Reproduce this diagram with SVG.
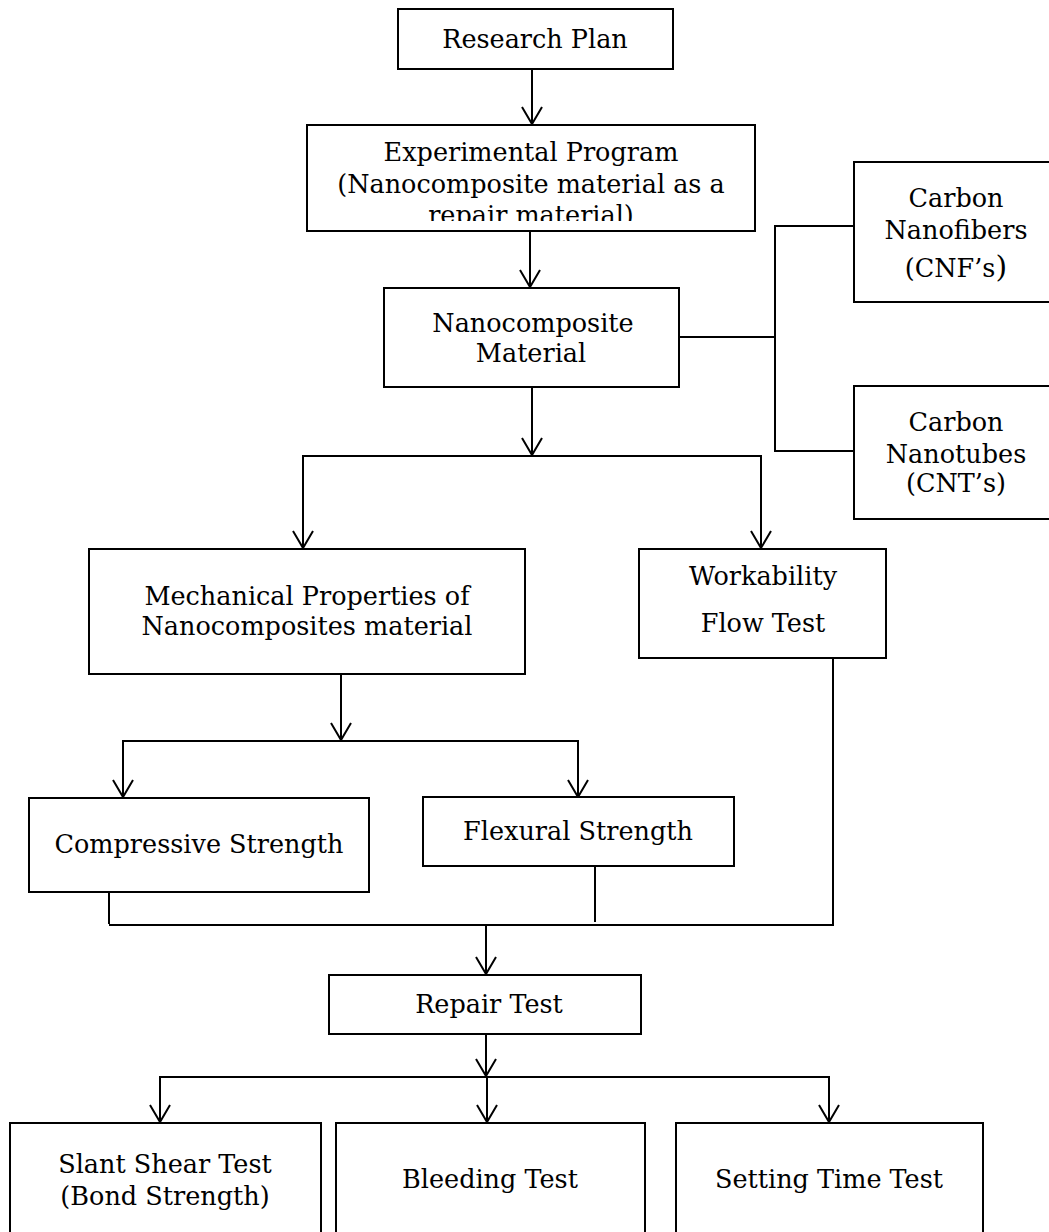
<svg xmlns="http://www.w3.org/2000/svg" width="1049" height="1232" viewBox="0 0 1049 1232">
<style>
  .box { fill: #fff; stroke: #000; stroke-width: 2; }
  .lbl { font-family: "DejaVu Serif", "Liberation Serif", serif; font-size: 25.5px; fill: #000; text-anchor: middle; }
  .con { fill: none; stroke: #000; stroke-width: 2; }
</style>
<defs>
  <marker id="arr" viewBox="-20 -12 22 24" refX="0" refY="0" markerWidth="22" markerHeight="24" markerUnits="userSpaceOnUse" orient="auto" overflow="visible">
    <path d="M-17,-10 L0,0 L-17,10" fill="none" stroke="#000" stroke-width="2"/>
  </marker>
  <clipPath id="expClip"><rect x="307" y="125" width="448" height="96"/></clipPath>
</defs>
<rect width="1049" height="1232" fill="#fff"/>

<g id="connectors">
  <line class="con" x1="532" y1="69" x2="532" y2="124" marker-end="url(#arr)"/>
  <line class="con" x1="530" y1="231" x2="530" y2="287" marker-end="url(#arr)"/>
  <polyline class="con" points="679,337 775,337"/>
  <polyline class="con" points="854,226 775,226 775,451 854,451"/>
  <line class="con" x1="532" y1="387" x2="532" y2="455" marker-end="url(#arr)"/>
  <polyline class="con" points="303,548 303,456 761,456 761,548"/>
  <line class="con" x1="303" y1="500" x2="303" y2="548" marker-end="url(#arr)"/>
  <line class="con" x1="761" y1="500" x2="761" y2="548" marker-end="url(#arr)"/>
  <line class="con" x1="341" y1="674" x2="341" y2="740" marker-end="url(#arr)"/>
  <polyline class="con" points="123,797 123,741 578,741 578,797"/>
  <line class="con" x1="123" y1="760" x2="123" y2="797" marker-end="url(#arr)"/>
  <line class="con" x1="578" y1="760" x2="578" y2="797" marker-end="url(#arr)"/>
  <line class="con" x1="109" y1="892" x2="109" y2="924"/>
  <line class="con" x1="595" y1="866" x2="595" y2="922"/>
  <polyline class="con" points="109,925 833,925 833,658"/>
  <line class="con" x1="486" y1="925" x2="486" y2="974" marker-end="url(#arr)"/>
  <line class="con" x1="486" y1="1034" x2="486" y2="1076" marker-end="url(#arr)"/>
  <polyline class="con" points="160,1122 160,1077 829,1077 829,1122"/>
  <line class="con" x1="160" y1="1090" x2="160" y2="1122" marker-end="url(#arr)"/>
  <line class="con" x1="487" y1="1077" x2="487" y2="1122" marker-end="url(#arr)"/>
  <line class="con" x1="829" y1="1090" x2="829" y2="1122" marker-end="url(#arr)"/>
</g>

<g id="research-plan">
  <rect class="box" x="398" y="9" width="275" height="60"/>
  <text class="lbl" x="535" y="48">Research Plan</text>
</g>
<g id="experimental-program">
  <rect class="box" x="307" y="125" width="448" height="106"/>
  <g clip-path="url(#expClip)">
    <text class="lbl" x="531" y="161">Experimental Program</text>
    <text class="lbl" x="531" y="193">(Nanocomposite material as a</text>
    <text class="lbl" x="531" y="224">repair material)</text>
  </g>
</g>
<g id="nanocomposite-material">
  <rect class="box" x="384" y="288" width="295" height="99"/>
  <text class="lbl" x="533" y="332">Nanocomposite</text>
  <text class="lbl" x="531" y="362">Material</text>
</g>
<g id="cnf">
  <rect class="box" x="854" y="162" width="206" height="140"/>
  <text class="lbl" x="956" y="207">Carbon</text>
  <text class="lbl" x="956" y="239">Nanofibers</text>
  <text class="lbl" x="956" y="277">(CNF’s<tspan font-size="30">)</tspan></text>
</g>
<g id="cnt">
  <rect class="box" x="854" y="386" width="206" height="133"/>
  <text class="lbl" x="956" y="431">Carbon</text>
  <text class="lbl" x="956" y="463">Nanotubes</text>
  <text class="lbl" x="956" y="492">(CNT’s)</text>
</g>
<g id="mechanical-properties">
  <rect class="box" x="89" y="549" width="436" height="125"/>
  <text class="lbl" x="307" y="605">Mechanical Properties of</text>
  <text class="lbl" x="307" y="635">Nanocomposites material</text>
</g>
<g id="workability">
  <rect class="box" x="639" y="549" width="247" height="109"/>
  <text class="lbl" x="763" y="585">Workability</text>
  <text class="lbl" x="763" y="632">Flow Test</text>
</g>
<g id="compressive-strength">
  <rect class="box" x="29" y="798" width="340" height="94"/>
  <text class="lbl" x="199" y="853">Compressive Strength</text>
</g>
<g id="flexural-strength">
  <rect class="box" x="423" y="797" width="311" height="69"/>
  <text class="lbl" x="578" y="840">Flexural Strength</text>
</g>
<g id="repair-test">
  <rect class="box" x="329" y="975" width="312" height="59"/>
  <text class="lbl" x="489" y="1013">Repair Test</text>
</g>
<g id="slant-shear-test">
  <rect class="box" x="10" y="1123" width="311" height="130"/>
  <text class="lbl" x="165" y="1173">Slant Shear Test</text>
  <text class="lbl" x="165" y="1205">(Bond Strength)</text>
</g>
<g id="bleeding-test">
  <rect class="box" x="336" y="1123" width="309" height="130"/>
  <text class="lbl" x="490" y="1188">Bleeding Test</text>
</g>
<g id="setting-time-test">
  <rect class="box" x="676" y="1123" width="307" height="130"/>
  <text class="lbl" x="829" y="1188">Setting Time Test</text>
</g>
</svg>
